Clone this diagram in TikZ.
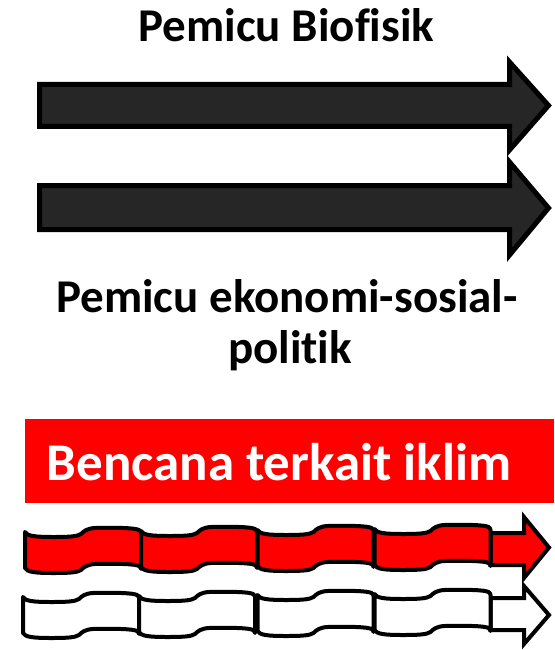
\documentclass[tikz,border=0pt]{standalone}
\usepackage{fontspec}
\setmainfont{Carlito}[Ligatures={NoCommon,NoContextual}]
\definecolor{darkfill}{HTML}{262626}
\definecolor{bandred}{HTML}{FF0000}
\newcommand\wavyseg[4]{%
  \filldraw[segline, fill=#4]
    ({#1},{#2+4}) .. controls ({#1+2},{#2+8}) and ({#1+10},{#2+9}) .. ({#1+28},{#2+9})
    .. controls ({#1+45},{#2+9}) and ({#1+52},{#2+8.5}) .. ({#1+56},{#2+6})
    .. controls ({#1+59},{#2+3}) and ({#1+62},{#2+0.5}) .. ({#1+70},{#2})
    .. controls ({#1+95},{#2-0.5}) and ({#1+110},{#2}) .. ({#1+114},{#2+2})
    .. controls ({#1+115.5},{#2+3}) and ({#1+116},{#2+4}) .. ({#1+116},{#2+5})
    -- ({#1+116},{#2+5+#3})
    .. controls ({#1+116},{#2+4+#3}) and ({#1+115.5},{#2+3+#3}) .. ({#1+114},{#2+2+#3})
    .. controls ({#1+110},{#2+#3}) and ({#1+95},{#2-0.5+#3}) .. ({#1+70},{#2+#3})
    .. controls ({#1+62},{#2+0.5+#3}) and ({#1+59},{#2+3+#3}) .. ({#1+56},{#2+6+#3})
    .. controls ({#1+52},{#2+8.5+#3}) and ({#1+45},{#2+9+#3}) .. ({#1+28},{#2+9+#3})
    .. controls ({#1+10},{#2+9+#3}) and ({#1+2},{#2+8+#3}) .. ({#1},{#2+4+#3})
    -- cycle;}
\begin{document}
\begin{tikzpicture}[x=1pt,y=-1pt,
  bigarrow/.style={draw=black, line width=5pt, fill=darkfill, line join=miter, miter limit=10},
  segline/.style={draw=black, line width=4pt, line join=round},
  headline/.style={draw=black, line width=4pt, line join=miter, miter limit=10},
  titletext/.style={font=\bfseries\fontsize{47}{56}\selectfont, anchor=base, inner sep=0pt},
  boxtext/.style={font=\bfseries\fontsize{53}{60}\selectfont, text=white, anchor=base, inner sep=0pt}]
\useasboundingbox (0,0) rectangle (554,650);
% titles
\node[titletext] (bio) at (286.5,42) {Pemicu Biofisik};
\node[titletext] (eco1) at (287,312) {Pemicu ekonomi-sosial-};
\node[titletext] (eco2) at (290,363) {politik};
% dark arrows
\filldraw[bigarrow] (39.5,84.5) -- (509.5,84.5) -- (509.5,62) -- (548.5,105.5) -- (509.5,150) -- (509.5,126.5) -- (39.5,126.5) -- cycle;
\filldraw[bigarrow] (39.5,185.5) -- (509.5,185.5) -- (509.5,162) -- (548.5,208) -- (509.5,255) -- (509.5,229.5) -- (39.5,229.5) -- cycle;
% red box
\fill[bandred] (25,419) rectangle (554,503);
\node[boxtext] (disaster) at (279,480) {Bencana terkait iklim};
% red wavy arrow
\filldraw[headline, fill=bandred] (490.5,533) -- (524,533) -- (524,517) -- (549,547.5) -- (524,578) -- (524,565) -- (490.5,565) -- cycle;
\wavyseg{25}{528}{36}{bandred}
\wavyseg{141}{527}{36}{bandred}
\wavyseg{257.5}{526}{36}{bandred}
\wavyseg{374.5}{525}{36}{bandred}
% white wavy arrow
\filldraw[headline, fill=white] (490.5,598) -- (524,598) -- (524,586) -- (549,615) -- (524,644) -- (524,630) -- (490.5,630) -- cycle;
\wavyseg{23}{593}{36}{white}
\wavyseg{139}{592}{36}{white}
\wavyseg{257.5}{591}{36}{white}
\wavyseg{374.5}{590}{36}{white}
\end{tikzpicture}
\end{document}
